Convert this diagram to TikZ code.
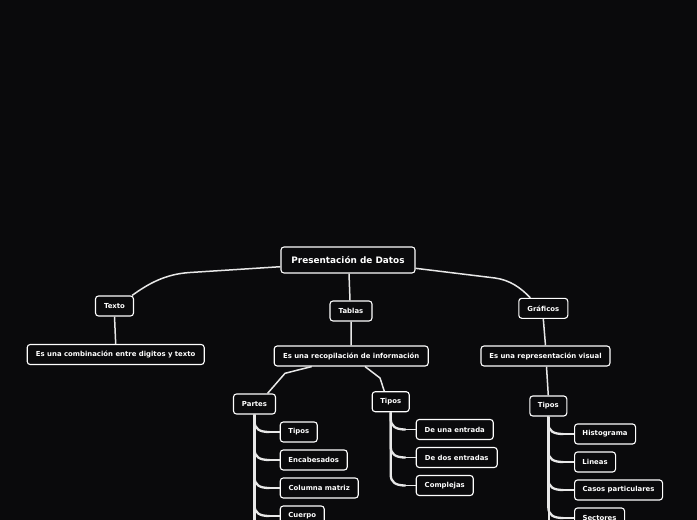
\documentclass[tikz,border=0pt]{standalone}
\usepackage{fontspec}
\setmainfont{DejaVu Sans}
\usetikzlibrary{calc}
\definecolor{bgc}{HTML}{0A0A0C}
\definecolor{linec}{HTML}{E8E8E8}
\tikzset{
  box/.style={draw=white, line width=1.1pt, rounded corners=3pt, fill=bgc, text=white,
    font=\fontsize{6.9}{8}\selectfont\bfseries, minimum height=20pt, inner xsep=0pt, inner ysep=0pt},
  rootbox/.style={box, minimum height=26pt, font=\fontsize{8.9}{10}\selectfont\bfseries},
  conn/.style={draw=linec, line width=1.5pt},
  trunk/.style={draw=linec, line width=2.3pt},
}
\newcommand{\branch}[2]{%
  \draw[trunk] (#1.south) -- ($(#1.south |- #2.west)+(0,-11)$)
    .. controls ($(#1.south |- #2.west)+(0,-3)$) and ($(#1.south |- #2.west)+(5,0)$) ..
    ($(#1.south |- #2.west)+(15,0)$);
  \draw[conn] ($(#1.south |- #2.west)+(14,0)$) -- (#2.west);}
\begin{document}
\begin{tikzpicture}[x=1pt,y=-1pt]
\fill[bgc] (0,0) rectangle (697,520);
\useasboundingbox (0,0) rectangle (697,520);
\clip (0,0) rectangle (697,520);

% nodes
\node[rootbox, minimum width=134pt] (root) at (348,260) {Presentación de Datos};
\node[box, minimum width=38pt] (texto) at (114.5,306) {Texto};
\node[box, minimum width=177pt] (tdesc) at (115.7,354.5) {Es una combinación entre digitos y texto};
\node[box, minimum width=42pt] (tablas) at (351,311) {Tablas};
\node[box, minimum width=154pt] (tbdesc) at (351.2,356) {Es una recopilación de información};
\node[box, minimum width=49pt] (graf) at (543.3,308.3) {Gráficos};
\node[box, minimum width=129pt] (gdesc) at (545.5,356) {Es una representación visual};

\node[box, minimum width=42pt] (partes) at (254.5,404) {Partes};
\node[box, minimum width=37pt] (ttipos) at (390.7,401.7) {Tipos};
\node[box, minimum width=37pt] (gtipos) at (548.3,406) {Tipos};

\node[box, anchor=west, minimum width=37pt] (p1) at (279.7,432) {Tipos};
\node[box, anchor=west, minimum width=67pt] (p2) at (279.7,460) {Encabesados};
\node[box, anchor=west, minimum width=78pt] (p3) at (279.7,488) {Columna matriz};
\node[box, anchor=west, minimum width=44pt] (p4) at (279.7,516) {Cuerpo};

\node[box, anchor=west, minimum width=77pt] (t1) at (415.7,429.5) {De una entrada};
\node[box, anchor=west, minimum width=81pt] (t2) at (415.7,457.5) {De dos entradas};
\node[box, anchor=west, minimum width=57pt] (t3) at (415.7,485.5) {Complejas};

\node[box, anchor=west, minimum width=61pt] (g1) at (574,434) {Histograma};
\node[box, anchor=west, minimum width=41pt] (g2) at (574,462) {Lineas};
\node[box, anchor=west, minimum width=88pt] (g3) at (574,490) {Casos particulares};
\node[box, anchor=west, minimum width=50pt] (g4) at (574,518) {Sectores};

% connectors
\draw[conn] ([yshift=-6.7pt]root.west) -- (190,272.5) .. controls (165,274) and (148,284) .. ([xshift=-2pt]texto.north east);
\draw[conn] ([xshift=1pt]root.south) -- ([xshift=-1pt]tablas.north);
\draw[conn] ([yshift=-8.3pt]root.east) -- (495,278) .. controls (510,280) and (521,288) .. ([xshift=-13pt]graf.north);
\draw[conn] (texto.south) -- (tdesc.north);
\draw[conn] (tablas.south) -- (tbdesc.north);
\draw[conn] (graf.south) -- (gdesc.north);
\draw[conn] ([xshift=1pt]gdesc.south) -- (gtipos.north);
\draw[conn] ([xshift=-39.5pt]tbdesc.south) -- (285,373.3) -- ([xshift=13pt]partes.north);
\draw[conn] ([xshift=13.8pt]tbdesc.south) -- (380,378) -- ([xshift=-6.4pt]ttipos.north);

\coordinate (pend) at (254.5,530);
\coordinate (gend) at (549,530);
\draw[trunk] (partes.south) -- (pend);
\draw[trunk] ([xshift=0.7pt]gtipos.south) -- (gend);
\branch{partes}{p1}
\branch{partes}{p2}
\branch{partes}{p3}
\branch{partes}{p4}
\branch{ttipos}{t1}
\branch{ttipos}{t2}
\branch{ttipos}{t3}
\branch{gtipos}{g1}
\branch{gtipos}{g2}
\branch{gtipos}{g3}
\branch{gtipos}{g4}
\end{tikzpicture}
\end{document}
